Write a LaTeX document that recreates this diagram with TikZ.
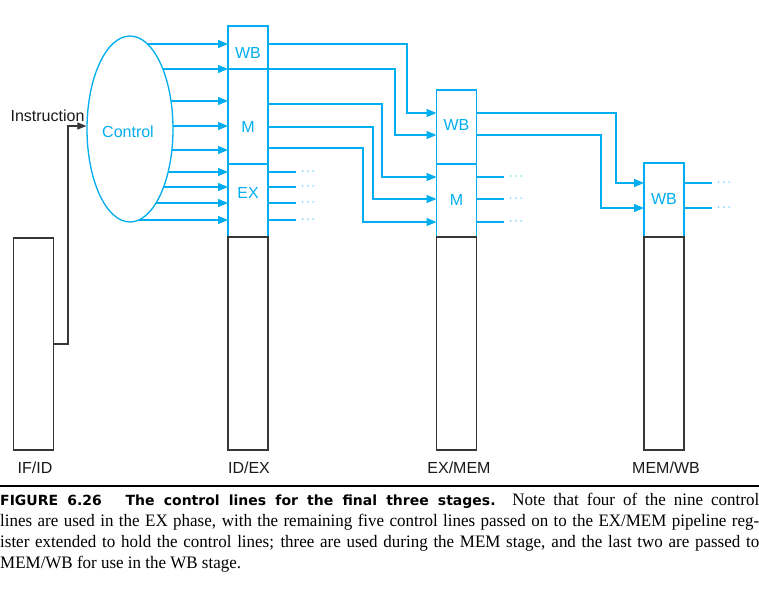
\documentclass[tikz,border=0pt]{standalone}
\usepackage{fontspec}
\setmainfont{Liberation Sans}
\newfontfamily\capserif[FakeStretch=0.97]{Liberation Serif}
\newfontfamily\capsans{DejaVu Sans}
\usetikzlibrary{arrows.meta,shapes.geometric,backgrounds}
\definecolor{ctlblue}{RGB}{0,174,239}
\definecolor{regline}{RGB}{55,55,55}
\tikzset{
  ctl/.style={draw=ctlblue, line width=1.3pt},
  ctlarrow/.style={ctl, -{Triangle[length=10pt,width=8pt]}},
  insarrow/.style={draw=regline, line width=1.2pt, -{Triangle[length=9pt,width=7pt]}},
  field/.style={draw=ctlblue, line width=1.6pt, minimum width=40pt, inner sep=0pt, outer sep=0pt},
  regbody/.style={draw=regline, line width=1.2pt, minimum width=40pt, inner sep=0pt, outer sep=0pt},
  fieldlabel/.style={text=ctlblue, font=\fontsize{16}{16}\selectfont},
  stagelabel/.style={text=black!90, font=\fontsize{16}{16}\selectfont},
  more/.style={text=ctlblue, inner xsep=5pt, inner ysep=0pt, font=\fontsize{12}{12}\selectfont}
}
\begin{document}
\begin{tikzpicture}[x=1pt, y=-1pt]
  \useasboundingbox (0,0) rectangle (759,594);
  % pipeline registers
  \node[regbody, minimum height=212pt] (ifid) at (33.5,344) {};
  \node[field, minimum height=43pt] (idexwb) at (248,47.5) {};
  \node[field, minimum height=95pt] (idexm) at (248,116.5) {};
  \node[field, minimum height=73pt] (idexex) at (248,200.5) {};
  \node[regbody, minimum height=213pt] (idex) at (248,343.5) {};
  \node[field, minimum height=74pt] (exmemwb) at (456.5,127) {};
  \node[field, minimum height=73pt] (exmemm) at (456.5,200.5) {};
  \node[regbody, minimum height=213pt] (exmem) at (456.5,343.5) {};
  \node[field, minimum height=74pt] (memwbwb) at (664,200) {};
  \node[regbody, minimum height=213pt] (memwb) at (664,343.5) {};
  \node[fieldlabel] (lidexwb) at (248,53) {WB};
  \node[fieldlabel] (lidexm) at (248,127) {M};
  \node[fieldlabel] (lidexex) at (248,193) {EX};
  \node[fieldlabel] (lexmemwb) at (456.5,125) {WB};
  \node[fieldlabel] (lexmemm) at (456.5,200) {M};
  \node[fieldlabel] (lmemwbwb) at (664,199) {WB};
  \node[stagelabel] (lifid) at (35,468) {IF/ID};
  \node[stagelabel] (lidex) at (249,468) {ID/EX};
  \node[stagelabel] (lexmem) at (459,468) {EX/MEM};
  \node[stagelabel] (lmemwb) at (666,468) {MEM/WB};

  % control unit
  \node[ellipse, draw=ctlblue, line width=1.3pt, fill=white, minimum width=86pt,
        minimum height=186pt, inner sep=0pt] (ctrl) at (130,129) {};
  \node[fieldlabel] (lctrl) at (128,132) {Control};
  \node[stagelabel, anchor=base] (instr) at (47.5,121) {Instruction};

  \foreach \y [count=\i] in {44,69,101,126,150,172,187,203,220}
    \coordinate (c\i) at (0,\y);
  \begin{scope}[on background layer]
    \foreach \i in {1,...,9}
      \draw[ctlarrow] (ctrl.center |- c\i) -- (idex.west |- c\i);
  \end{scope}
  \coordinate (iturn) at (68,344);
  \draw[insarrow] (ifid.east |- iturn) -- (iturn) |- (ctrl.west |- c4);

  % ID/EX to EX/MEM
  \foreach \ya/\yb/\xt [count=\i] in {44/113/407, 69/135/395, 104/177/382, 127/199/373, 148/222/363} {
    \coordinate (a\i) at (\xt,\ya);
    \coordinate (b\i) at (\xt,\yb);
    \draw[ctlarrow] (idex.east |- a\i) -- (a\i) -- (b\i) -- (exmem.west |- b\i);
  }
  \foreach \y [count=\i] in {172,187,203,220} {
    \node[more] (dex\i) at (308,\y) {$\cdots$};
    \draw[ctl] (idex.east |- dex\i) -- (dex\i.west);
  }

  % EX/MEM to MEM/WB
  \foreach \ya/\yb/\xt [count=\i] in {113/183/616, 135/208/601} {
    \coordinate (p\i) at (\xt,\ya);
    \coordinate (q\i) at (\xt,\yb);
    \draw[ctlarrow] (exmem.east |- p\i) -- (p\i) -- (q\i) -- (memwb.west |- q\i);
  }
  \foreach \y [count=\i] in {177,199,222} {
    \node[more] (dmem\i) at (516,\y) {$\cdots$};
    \draw[ctl] (exmem.east |- dmem\i) -- (dmem\i.west);
  }
  \foreach \y [count=\i] in {183,208} {
    \node[more] (dwb\i) at (724,\y) {$\cdots$};
    \draw[ctl] (memwb.east |- dwb\i) -- (dwb\i.west);
  }

  % caption
  \draw[line width=2.8pt] (0,486) -- (759,486);
  \node[anchor=base west, inner sep=0pt, text width=759pt, align=justify,
        font=\capserif\fontsize{17.5}{21.3}\selectfont] (caption) at (0,505)
    {{\capsans\bfseries\fontsize{14}{14}\selectfont FIGURE 6.26\hskip 1.7em The control lines for the final three stages.}
     Note that four of the nine control\linebreak
     lines are used in the EX phase, with the remaining five control lines passed on to the EX/MEM pipeline reg-\linebreak
     ister extended to hold the control lines; three are used during the MEM stage, and the last two are passed to\linebreak
     MEM/WB for use in the WB stage.};
\end{tikzpicture}
\end{document}
